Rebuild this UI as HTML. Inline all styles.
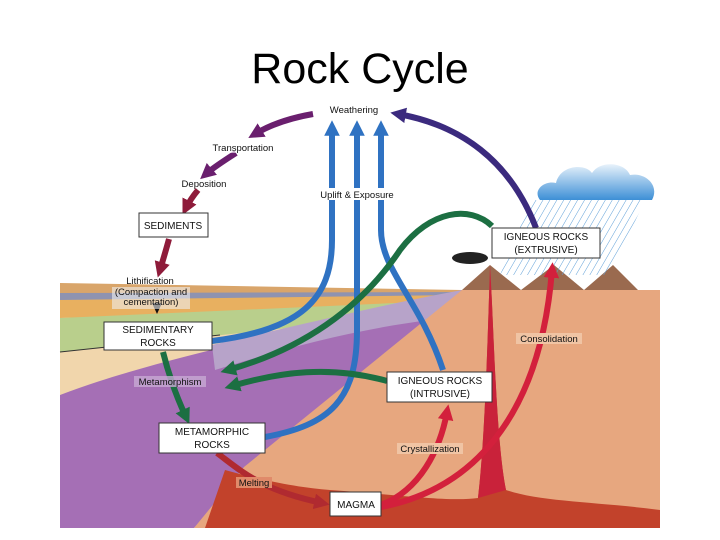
<!DOCTYPE html>
<html><head><meta charset="utf-8"><style>
html,body{margin:0;padding:0;background:#fff;}
svg{display:block;}
text{font-family:"Liberation Sans",sans-serif;}
</style></head><body>
<svg width="720" height="540" viewBox="0 0 720 540" xmlns="http://www.w3.org/2000/svg">
<defs>
<linearGradient id="cl" x1="0" y1="0" x2="0" y2="1"><stop offset="0" stop-color="#e8f2fb"/><stop offset="1" stop-color="#3d8fd6"/></linearGradient>
<pattern id="rain" width="6" height="6" patternUnits="userSpaceOnUse" patternTransform="rotate(30)"><line x1="0" y1="0" x2="0" y2="6" stroke="#5fa0d8" stroke-width="1"/></pattern>
<marker id="h" viewBox="0 0 10 10" refX="5" refY="5" markerWidth="2.6" markerHeight="2.6" orient="auto" markerUnits="strokeWidth"><path d="M0,0 L10,5 L0,10 z" fill="context-stroke"/></marker>
</defs>
<rect width="720" height="540" fill="#fff"/>
<text x="360" y="83" font-size="43" text-anchor="middle" fill="#000">Rock Cycle</text>

<path d="M60,283 L462,290 L462,300 L60,300 z" fill="#d9a56a"/>
<path d="M60,293 L462,292 L462,302 L60,301 z" fill="#8f93b0"/>
<path d="M60,300 L462,295 L462,310 L60,318 z" fill="#e8b060"/>
<path d="M60,318 L462,300 L440,315 L60,352 z" fill="#b9cf8c"/>
<path d="M60,352 L440,312 L300,345 L60,395 z" fill="#f1d6ac"/>
<path d="M60,352 L220,335" stroke="#333" stroke-width="1"/>
<path d="M60,395 C150,360 300,330 462,290 L194,528 L60,528 z" fill="#a56fb5"/>
<path d="M212,345 C300,325 380,305 462,290 L430,320 C350,330 280,350 215,370 z" fill="#b7a3c9"/>
<path d="M462,290 L660,290 L660,528 L194,528 L244,467 z" fill="#e7a77f"/>
<path d="M205,528 L225,470 C260,480 300,488 330,490 C400,495 450,502 478,498 C485,440 488,330 490,265 C494,330 496,440 506,490 C540,502 600,502 660,510 L660,528 z" fill="#c2422b"/>
<path d="M462,290 L490,265 L521,290 L554,265 L584,290 L613,265 L638,290 z" fill="#9a6a4f"/>
<path d="M478,498 C485,440 488,330 490,265 C494,330 496,440 506,490 z" fill="#c9223a"/>
<ellipse cx="470" cy="258" rx="18" ry="6" fill="#222"/>
<path d="M530,200 L645,200 L610,275 L500,275 z" fill="url(#rain)"/>
<path d="M540,200 C532,190 545,180 556,183 C560,165 585,163 592,173 C600,160 625,162 630,175 C645,172 660,185 652,200 z" fill="url(#cl)"/>

<g fill="none" stroke="#2f72c2" stroke-width="6">
<path d="M212,341 C300,330 332,300 332,240 L332,200" />
<path d="M332,188 L332,128" marker-end="url(#h)"/>
<path d="M265,437 C330,425 357,400 357,330 L357,200"/>
<path d="M357,188 L357,128" marker-end="url(#h)"/>
<path d="M443,370 C420,300 381,270 381,230 L381,200"/>
<path d="M381,188 L381,128" marker-end="url(#h)"/>
</g>
<g fill="none" stroke="#1c6f42" stroke-width="6">
<path d="M492,226 C470,205 430,210 400,250 C360,310 300,350 228,370" marker-end="url(#h)"/>
<path d="M387,381 C330,365 280,372 232,386" marker-end="url(#h)"/>
<path d="M163,352 C170,380 178,400 186,417" marker-end="url(#h)"/>
</g>
<g fill="none" stroke-width="6">
<path d="M313,114 C290,118 270,125 255,134" stroke="#6a1f6e" marker-end="url(#h)"/>
<path d="M236,153 C225,160 214,167 206,174" stroke="#6a1f6e" marker-end="url(#h)"/>
<path d="M198,190 C193,196 189,202 186,208" stroke="#8e1b3a" marker-end="url(#h)"/>
<path d="M169,239 C166,250 163,260 160,270" stroke="#8e1b3a" marker-end="url(#h)"/>
<path d="M536,228 C510,160 460,125 398,114" stroke="#3b2a7e" marker-end="url(#h)"/>
<path d="M217,453 C240,470 260,490 322,503" stroke="#b02a30" marker-end="url(#h)"/>
<path d="M381,505 C420,490 440,450 447,412" stroke="#d3203c" marker-end="url(#h)"/>
<path d="M381,507 C470,490 540,420 552,270" stroke="#d3203c" marker-end="url(#h)"/>
</g>
<path d="M152,303 L162,303 L157,314 z" fill="#111"/>

<g font-size="9.5" fill="#111" text-anchor="middle">
<text x="354" y="113">Weathering</text>
<rect x="210" y="142" width="64" height="11" fill="#fff" opacity=".6"/>
<text x="243" y="151">Transportation</text>
<text x="204" y="187">Deposition</text>
<text x="150" y="284">Lithification</text>
<rect x="112" y="287" width="78" height="22" fill="#eee" opacity=".6"/>
<text x="151" y="295">(Compaction and</text>
<text x="151" y="305">cementation)</text>
<text x="357" y="198">Uplift &amp; Exposure</text>
<rect x="134" y="376" width="72" height="11" fill="#c7a9d3" opacity=".8"/>
<text x="170" y="385">Metamorphism</text>
<rect x="516" y="333" width="66" height="11" fill="#f0c4a4"/>
<text x="549" y="342">Consolidation</text>
<rect x="397" y="443" width="66" height="11" fill="#f0c4a4"/>
<text x="430" y="452">Crystallization</text>
<rect x="236" y="477" width="36" height="11" fill="#e08a6a"/>
<text x="254" y="486">Melting</text>
</g>
<g fill="#fff" stroke="#333" stroke-width="1">
<rect x="139" y="213" width="69" height="24"/>
<rect x="104" y="322" width="108" height="28"/>
<rect x="159" y="423" width="106" height="30"/>
<rect x="387" y="372" width="105" height="30"/>
<rect x="492" y="228" width="108" height="30"/>
<rect x="330" y="492" width="51" height="24"/>
</g>
<g font-size="10" fill="#111" text-anchor="middle">
<text x="173" y="229">SEDIMENTS</text>
<text x="158" y="333">SEDIMENTARY</text><text x="158" y="346">ROCKS</text>
<text x="212" y="435">METAMORPHIC</text><text x="212" y="448">ROCKS</text>
<text x="440" y="384">IGNEOUS ROCKS</text><text x="440" y="397">(INTRUSIVE)</text>
<text x="546" y="240">IGNEOUS ROCKS</text><text x="546" y="253">(EXTRUSIVE)</text>
<text x="356" y="508">MAGMA</text>
</g>
</svg>
</body></html>
